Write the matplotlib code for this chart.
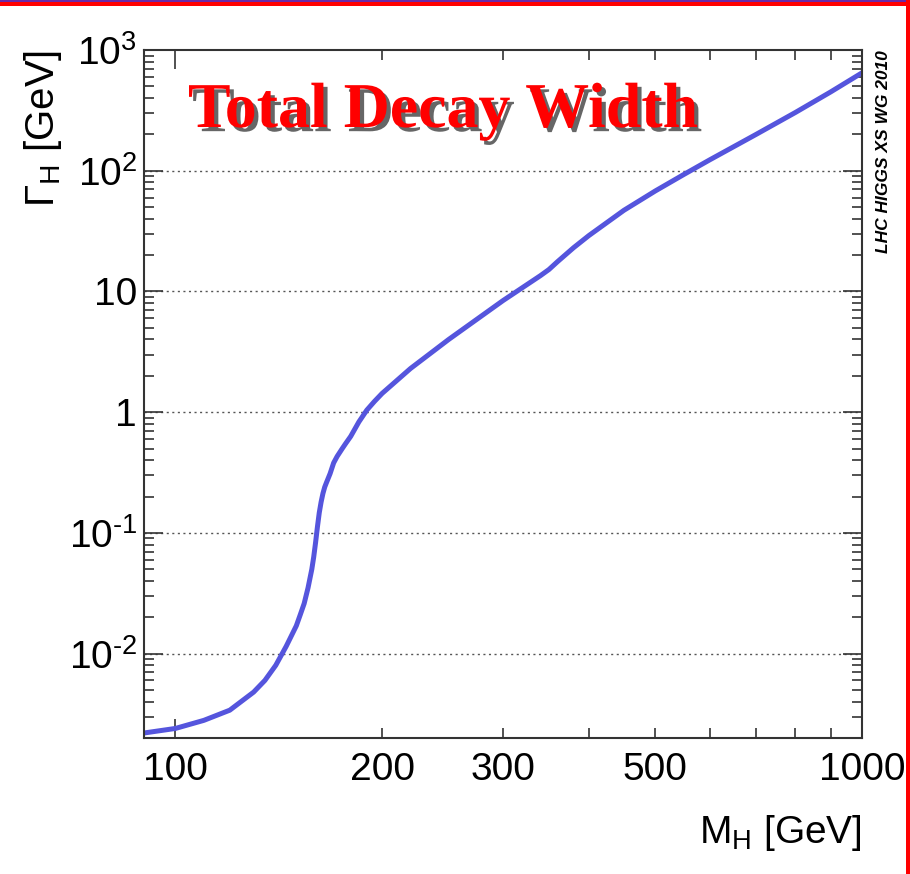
import matplotlib
matplotlib.use("Agg")
import matplotlib.pyplot as plt
import matplotlib.ticker as mticker
import matplotlib.patheffects as pe
from matplotlib.patches import Rectangle

# Higgs mass [GeV] and total decay width [GeV]
mass = [90, 100, 110, 120, 130, 135, 140, 145, 150, 152, 154, 156, 158,
        159, 160, 161, 162, 163, 164, 165, 166, 168, 170, 172, 175, 177,
        180, 185, 190, 195, 200, 220, 250, 300, 340, 350, 360, 380, 400,
        450, 500, 550, 600, 700, 800, 900, 1000]
width = [0.0022, 0.0024, 0.0028, 0.0034, 0.0048, 0.0060, 0.0080, 0.0115,
         0.017, 0.021, 0.026, 0.035, 0.050, 0.063, 0.083, 0.112, 0.147,
         0.18, 0.212, 0.24, 0.262, 0.31, 0.38, 0.43, 0.50, 0.55, 0.63,
         0.83, 1.04, 1.23, 1.43, 2.3, 4.0, 8.4, 13.5, 15.2, 17.6, 23.0,
         29.0, 47.0, 68.0, 93.0, 123.0, 199.0, 304.0, 449.0, 647.0]

x_labels = [100, 200, 300, 500, 1000]
y_labels = {1e-2: r'10$^{\text{-}2}$', 1e-1: r'10$^{\text{-}1}$', 1: '1',
            10: '10', 1e2: '10$^{2}$', 1e3: '10$^{3}$'}

plt.rcParams['font.family'] = ['Liberation Sans', 'DejaVu Sans']
plt.rcParams['mathtext.fontset'] = 'custom'
plt.rcParams['mathtext.rm'] = 'Liberation Sans'
plt.rcParams['mathtext.it'] = 'Liberation Sans:italic'

fig = plt.figure(figsize=(9.10, 8.74), dpi=100)
ax = fig.add_axes([144 / 910, 136 / 874, 718 / 910, 688 / 874])

ax.plot(mass, width, color='#5555dd', lw=3.6, solid_joinstyle='round')

ax.set_xscale('log')
ax.set_yscale('log')
ax.set_xlim(90, 1000)
ax.set_ylim(2.0e-3, 1e3)

# x axis: long ticks at decades, short at the rest
ax.xaxis.set_major_locator(mticker.FixedLocator([100, 1000]))
ax.xaxis.set_minor_locator(mticker.FixedLocator([90, 200, 300, 400, 500, 600, 700, 800, 900]))
fmt_x = mticker.FuncFormatter(
    lambda v, p: str(int(round(v))) if int(round(v)) in x_labels else '')
ax.xaxis.set_major_formatter(fmt_x)
ax.xaxis.set_minor_formatter(fmt_x)

ax.yaxis.set_major_locator(mticker.FixedLocator(list(y_labels.keys())))
ax.yaxis.set_minor_locator(mticker.LogLocator(base=10, subs=range(2, 10), numticks=20))
ax.yaxis.set_major_formatter(mticker.FuncFormatter(lambda v, p: y_labels.get(v, '')))
ax.yaxis.set_minor_formatter(mticker.NullFormatter())

ax.tick_params(which='both', direction='in', top=True, right=True,
               width=1.2, color='#333333')
ax.tick_params(which='major', length=14, labelsize=28)
ax.tick_params(which='minor', length=7, labelsize=28)
ax.tick_params(axis='x', which='both', pad=10)
ax.tick_params(axis='y', which='both', pad=5)

for s in ax.spines.values():
    s.set_linewidth(1.5)
    s.set_color('#333333')

for g in [1e-2, 1e-1, 1, 10, 1e2]:
    ax.axhline(g, color='#555555', lw=1.0, ls=(0, (1.5, 2.5)), zorder=0)

fig.text(22 / 910, 1 - 50 / 874, r'$\Gamma_{\mathrm{H}}$ [GeV]', rotation=90,
         ha='left', va='top', fontsize=29)
fig.text(862 / 910, 1 - 833 / 874, r'M$_{\mathrm{H}}$ [GeV]',
         ha='right', va='center', fontsize=28)

fig.text(188 / 910, 1 - 112 / 874, 'Total Decay Width', color='red',
         family='Liberation Serif', weight='bold', fontsize=46,
         ha='left', va='center',
         path_effects=[pe.withSimplePatchShadow(offset=(3, -3), shadow_rgbFace='black', alpha=0.6)])

fig.text(884 / 910, 1 - 50 / 874, 'LHC HIGGS XS WG 2010', rotation=90,
         ha='center', va='top', fontsize=12.5, weight='bold', style='italic')

# red frame along the top and right edge
fig.patches.append(Rectangle((0, 1 - 6 / 874), 1, 6 / 874, transform=fig.transFigure,
                             facecolor='red', edgecolor='none'))
fig.patches.append(Rectangle((0, 1 - 1.5 / 874), 1, 1.5 / 874, transform=fig.transFigure,
                             facecolor='#6a2aa8', edgecolor='none'))
fig.patches.append(Rectangle((1 - 4 / 910, 0), 4 / 910, 1, transform=fig.transFigure,
                             facecolor='red', edgecolor='none'))

plt.savefig('out.png', dpi=100)
